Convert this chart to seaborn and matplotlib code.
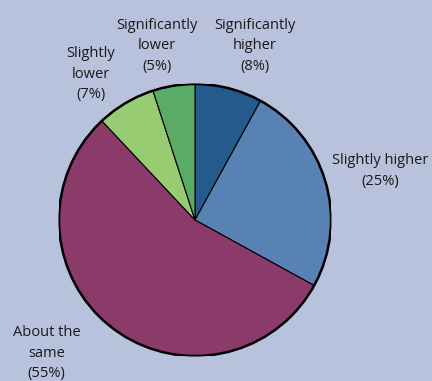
import matplotlib
matplotlib.use("Agg")
import matplotlib.pyplot as plt
import seaborn as sns
from matplotlib.patches import Circle

categories = ["Significantly\nhigher", "Slightly higher", "About the\nsame", "Slightly\nlower", "Significantly\nlower"]
shares = [8, 25, 55, 7, 5]
colors = ["#245a8c", "#5882b4", "#8b3a69", "#98cc72", "#5aaa68"]
# label anchor points (data units, pie radius = 1)
label_pos = [(0.44, 1.28), (1.36, 0.36), (-1.09, -0.98), (-0.765, 1.07), (-0.28, 1.28)]

sns.set_theme(style="white")
plt.rcParams["font.family"] = ["Open Sans", "DejaVu Sans"]

bg = "#b8c2dc"
fig = plt.figure(figsize=(4.32, 3.81), dpi=100, facecolor=bg)
W, H = 432, 381
cx, cy, r = 195, 220, 136
ax = fig.add_axes([(cx - r) / W, (H - cy - r) / H, 2 * r / W, 2 * r / H])
ax.set_facecolor(bg)

wedges, _ = ax.pie(shares, colors=colors, startangle=90, counterclock=False,
                   radius=1, wedgeprops=dict(edgecolor="black", linewidth=0.8))
ax.add_patch(Circle((0, 0), 1, facecolor="none", edgecolor="black", linewidth=1.8))

for name, val, (x, y) in zip(categories, shares, label_pos):
    ax.text(x, y, f"{name}\n({val}%)", ha="center", va="center", fontsize=10.5,
            color="#1a1a1a", linespacing=1.5, clip_on=False)

ax.set_xlim(-1, 1)
ax.set_ylim(-1, 1)
ax.axis("off")
fig.savefig("out.png", dpi=100, facecolor=bg)
